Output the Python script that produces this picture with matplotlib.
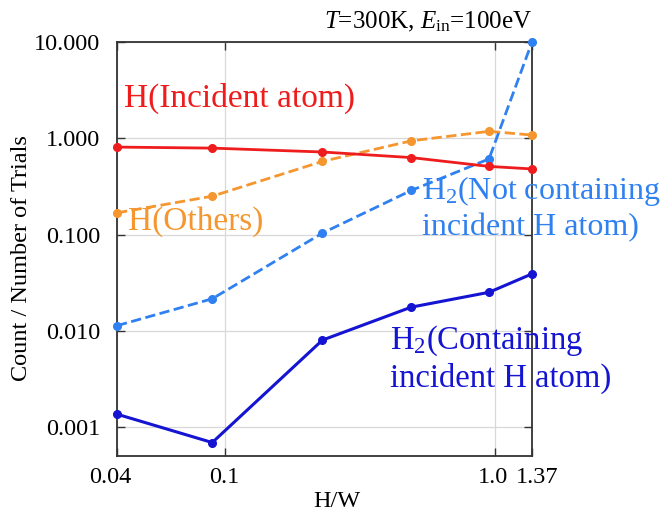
import matplotlib
matplotlib.use("Agg")
import matplotlib.pyplot as plt
from matplotlib.ticker import FixedLocator, FixedFormatter, NullLocator
from matplotlib.transforms import ScaledTranslation

plt.rcParams['font.family'] = ['Liberation Serif', 'DejaVu Serif']
plt.rcParams['mathtext.fontset'] = 'custom'
plt.rcParams['mathtext.rm'] = 'Liberation Serif'
plt.rcParams['mathtext.it'] = 'Liberation Serif:italic'

hw = [0.04, 0.09, 0.23, 0.49, 0.95, 1.37]
h_incident = [0.81, 0.79, 0.72, 0.63, 0.51, 0.48]
h_others = [0.168, 0.25, 0.575, 0.94, 1.18, 1.08]
h2_not_containing = [0.0113, 0.0215, 0.1035, 0.287, 0.61, 10.0]
h2_containing = [0.00136, 0.00069, 0.0080, 0.0176, 0.0251, 0.039]

x_ticks = [0.04, 0.1, 1.0, 1.37]
x_tick_labels = ["0.04", "0.1", "1.0", "1.37"]
y_ticks = [0.001, 0.01, 0.1, 1.0, 10.0]
y_tick_labels = ["0.001", "0.010", "0.100", "1.000", "10.000"]

c_red = "#ee1c1c"
c_orange = "#f5962e"
c_light = "#2f80f0"
c_dark = "#1414d2"

fig = plt.figure(figsize=(6.67, 5.11), dpi=100)
ax = fig.add_axes([0.1754, 0.1076, 0.6222, 0.8102])

ax.plot(hw, h_incident, '-o', color=c_red, lw=2, ms=5.5, zorder=4, clip_on=False)
ax.plot(hw, h_others, '--o', color=c_orange, lw=2, ms=5.5, zorder=3, clip_on=False)
ax.plot(hw, h2_not_containing, '--o', color=c_light, lw=2, ms=5.5, zorder=3, clip_on=False)
ax.plot(hw, h2_containing, '-o', color=c_dark, lw=2.2, ms=5.5, zorder=4, clip_on=False)

ax.set_xscale('log')
ax.set_yscale('log')
ax.set_xlim(0.04, 1.37)
ax.set_ylim(0.0005, 10)

ax.xaxis.set_major_locator(FixedLocator(x_ticks))
ax.xaxis.set_major_formatter(FixedFormatter(x_tick_labels))
ax.xaxis.set_minor_locator(NullLocator())
ax.yaxis.set_major_locator(FixedLocator(y_ticks))
ax.yaxis.set_major_formatter(FixedFormatter(y_tick_labels))
ax.yaxis.set_minor_locator(NullLocator())

ax.tick_params(direction='in', top=True, right=True, length=6, width=1,
               labelsize=17.5, colors='#333333', labelcolor='black')
ax.tick_params(axis='y', pad=12)
ax.tick_params(axis='x', pad=8)
ax.grid(True, color='#d8d8d8', lw=0.9)
ax.set_axisbelow(True)
for s in ax.spines.values():
    s.set_color('#333333')
    s.set_linewidth(1.3)

fig.canvas.draw()
xlabels = ax.get_xticklabels()
xlabels[-1].set_transform(xlabels[-1].get_transform() +
                          ScaledTranslation(5 / 100, 0, fig.dpi_scale_trans))
xlabels[-2].set_transform(xlabels[-2].get_transform() +
                          ScaledTranslation(-2 / 100, 0, fig.dpi_scale_trans))
xlabels[0].set_transform(xlabels[0].get_transform() +
                         ScaledTranslation(-7 / 100, 0, fig.dpi_scale_trans))

ax.set_xlabel("H/W", fontsize=17.5)
ax.xaxis.set_label_coords(0.53, -0.085)
ax.set_ylabel("Count / Number of Trials", fontsize=17.5)
ax.yaxis.set_label_coords(-0.205, 0.478)

fig.text(532 / 667, 1 - 22 / 511, r"$\it{T}$=300K, $\it{E}_{\rm in}$=100eV", fontsize=18,
         ha='right', va='center')

ax.text(0.016, 0.865, "H(Incident atom)", transform=ax.transAxes, color=c_red,
        fontsize=24, ha='left', va='center')
ax.text(0.026, 0.565, "H(Others)", transform=ax.transAxes, color=c_orange,
        fontsize=24, ha='left', va='center')
ax.text(0.735, 0.599, "H$_2$(Not containing\nincident H atom)", transform=ax.transAxes,
        color=c_light, fontsize=23, ha='left', va='center', linespacing=1.2,
        clip_on=False)
ax.text(0.658, 0.236, "H$_2$(Containing\nincident H atom)", transform=ax.transAxes,
        color=c_dark, fontsize=23.5, ha='left', va='center', linespacing=1.2,
        clip_on=False)

fig.savefig("out.png", dpi=100, facecolor='white')
